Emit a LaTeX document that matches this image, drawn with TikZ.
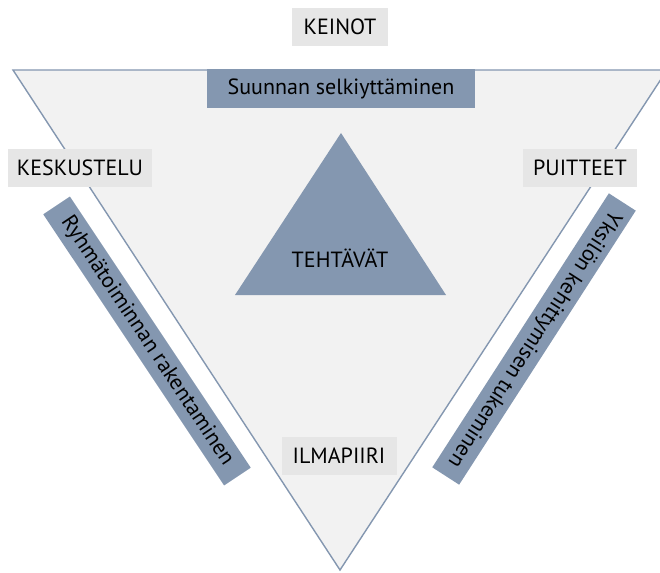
\documentclass[tikz,border=0pt]{standalone}
\usepackage{fontspec}
\setmainfont{PT Sans}
\definecolor{paleFill}{HTML}{F2F2F2}
\definecolor{edgeBlue}{HTML}{8497B0}
\definecolor{barBlue}{HTML}{8497B0}
\definecolor{tagGray}{HTML}{E6E6E6}
\begin{document}
\begin{tikzpicture}[x=1pt,y=-1pt,
  every node/.style={font=\fontsize{22}{24}\selectfont, text=black},
  tag/.style={fill=tagGray, inner sep=0pt, minimum height=38, text depth=0pt},
  bar/.style={fill=barBlue, inner sep=0pt, minimum width=326, minimum height=32}]
\useasboundingbox (0,0) rectangle (660,572);
\clip (0,0) rectangle (660,572);
% outer inverted triangle
\coordinate (tl) at (13,70);
\coordinate (tr) at (667,70);
\coordinate (bt) at (340,570);
\draw[fill=paleFill, draw=edgeBlue, line width=1.4pt, line join=miter] (tl) -- (tr) -- (bt) -- cycle;
% inner triangle
\coordinate (ia) at (341,133);
\coordinate (il) at (235,295);
\coordinate (ir) at (446,295);
\fill[barBlue] (ia) -- (ir) -- (il) -- cycle;
\node (teht) at (340,258) {TEHTÄVÄT};
% corner tags
\node[tag, minimum width=96] (keinot) at (340,27) {KEINOT};
\node[tag, minimum width=144] (kesk) at (80,168) {KESKUSTELU};
\node[tag, minimum width=114] (puit) at (580,168) {PUITTEET};
\node[tag, minimum width=115] (ilma) at (339,456) {ILMAPIIRI};
% side bars
\node[fill=barBlue, inner sep=0pt, minimum width=268, minimum height=39] (suunta) at (341,89) {Suunnan selkiyttäminen};
\node[bar, rotate=-56.3] (ryhma) at (147,341) {Ryhmätoiminnan rakentaminen};
\node[bar, rotate=-122.8] (yksilo) at (534,339) {Yksilön kehittymisen tukeminen};
\end{tikzpicture}
\end{document}
